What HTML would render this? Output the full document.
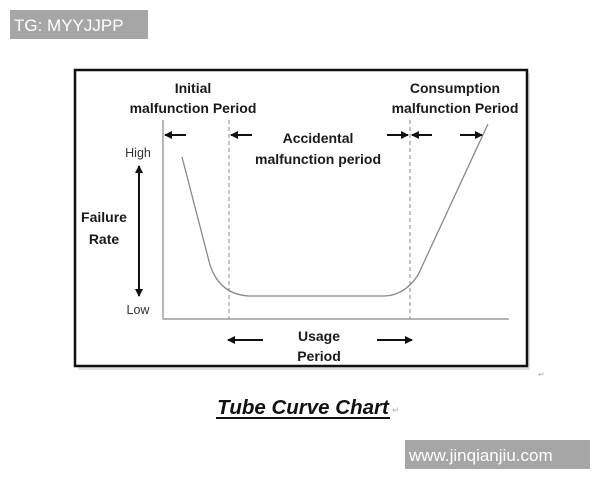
<!DOCTYPE html>
<html><head><meta charset="utf-8"><style>
html,body{margin:0;padding:0;background:#fff;}
svg{display:block;}
text{font-family:"Liberation Sans",sans-serif;}
.b{font-weight:bold;font-size:14px;fill:#1a1a1a;text-anchor:middle;}
</style></head><body>
<svg width="600" height="480" viewBox="0 0 600 480">
<defs>
<marker id="ah" markerWidth="8" markerHeight="8" refX="7" refY="4" orient="auto" markerUnits="userSpaceOnUse">
<path d="M0,0 L8,4 L0,8 z" fill="#111"/></marker>
</defs>
<rect x="78" y="73" width="452" height="297" fill="#ccc" opacity="0.6"/>
<rect x="75" y="70" width="452" height="296" fill="#fff" stroke="#111" stroke-width="2.5"/>
<line x1="163" y1="120" x2="163" y2="319" stroke="#888" stroke-width="1.2"/>
<line x1="163" y1="319" x2="509" y2="319" stroke="#888" stroke-width="1.2"/>
<line x1="229" y1="120" x2="229" y2="319" stroke="#888" stroke-width="1" stroke-dasharray="4,3"/>
<line x1="410" y1="120" x2="410" y2="319" stroke="#888" stroke-width="1" stroke-dasharray="4,3"/>
<path d="M182,157 L210,265 Q220,295 250,296 L385,296 Q405,295 418,275 L488,124" fill="none" stroke="#888" stroke-width="1.3"/>
<g stroke="#111" stroke-width="2">
<line x1="186" y1="135" x2="165" y2="135" marker-end="url(#ah)"/>
<line x1="252" y1="135" x2="231" y2="135" marker-end="url(#ah)"/>
<line x1="387" y1="135" x2="408" y2="135" marker-end="url(#ah)"/>
<line x1="432" y1="135" x2="412" y2="135" marker-end="url(#ah)"/>
<line x1="460" y1="135" x2="482" y2="135" marker-end="url(#ah)"/>
<line x1="139" y1="230" x2="139" y2="166" marker-end="url(#ah)"/>
<line x1="139" y1="230" x2="139" y2="296" marker-end="url(#ah)"/>
<line x1="263" y1="340" x2="228" y2="340" marker-end="url(#ah)"/>
<line x1="377" y1="340" x2="412" y2="340" marker-end="url(#ah)"/>
</g>
<text class="b" x="193" y="93">Initial</text>
<text class="b" x="193" y="113">malfunction Period</text>
<text class="b" x="455" y="93">Consumption</text>
<text class="b" x="455" y="113">malfunction Period</text>
<text class="b" x="318" y="143">Accidental</text>
<text class="b" x="318" y="164">malfunction period</text>
<text class="b" x="104" y="222">Failure</text>
<text class="b" x="104" y="244">Rate</text>
<text class="b" x="319" y="341">Usage</text>
<text class="b" x="319" y="361">Period</text>
<text x="138" y="157" font-size="12.5" fill="#333" text-anchor="middle">High</text>
<text x="138" y="314" font-size="12.5" fill="#333" text-anchor="middle">Low</text>
<text x="303" y="414" font-size="20.5" font-weight="bold" font-style="italic" fill="#111" text-anchor="middle">Tube Curve Chart</text>
<line x1="216" y1="418" x2="390" y2="418" stroke="#111" stroke-width="2"/>
<text x="392" y="413" font-size="9" fill="#aaa">↵</text>
<text x="538" y="377" font-size="8" fill="#aaa">↵</text>
<rect x="10" y="10" width="138" height="29" fill="#a6a6a6"/>
<text x="14" y="31" font-size="17" fill="#fff">TG: MYYJJPP</text>
<rect x="405" y="440" width="185" height="29" fill="#a6a6a6"/>
<text x="409" y="461" font-size="17" fill="#fff">www.jinqianjiu.com</text>
</svg>
</body></html>
